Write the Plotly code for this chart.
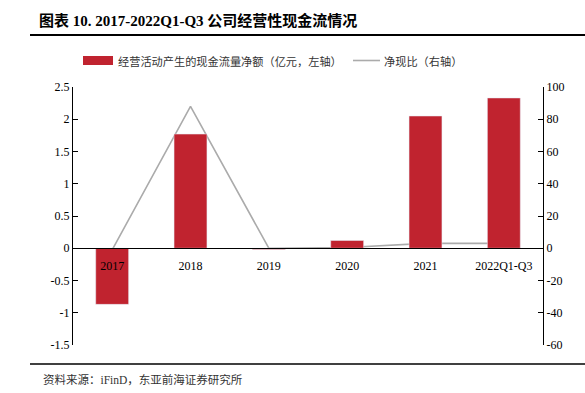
import plotly.graph_objects as go

categories = ["2017", "2018", "2019", "2020", "2021", "2022Q1-Q3"]
cash_flow = [-0.87, 1.77, -0.02, 0.12, 2.05, 2.33]
cash_ratio = [-1.0, 88.0, 0.0, 0.5, 3.0, 3.0]
left_ticks = [-1.5, -1, -0.5, 0, 0.5, 1, 1.5, 2, 2.5]
right_ticks = [-60, -40, -20, 0, 20, 40, 60, 80, 100]

title_text = "图表 10. 2017-2022Q1-Q3 公司经营性现金流情况"
bar_name = "经营活动产生的现金流量净额（亿元，左轴）"
line_name = "净现比（右轴）"
source_text = "资料来源：iFinD，东亚前海证券研究所"

W, H = 585, 393
ML, MR, MT, MB = 73, 42, 87, 48
PW, PH = W - ML - MR, H - MT - MB

def px(x):
    return (x - ML) / PW

def py(y):
    return (H - MB - y) / PH

RED = "#C0232F"
GRAY = "#ABABAB"
SERIF = "Liberation Serif, Times New Roman, serif"
CJK = "Noto Sans CJK SC"

def fmt(v):
    return f"{v:g}"

fig = go.Figure()
# line on primary (right) axis so bars on the overlaying axis draw on top
fig.add_trace(go.Scatter(x=categories, y=cash_ratio, name=line_name, mode="lines",
                         line=dict(color=GRAY, width=1.6), yaxis="y"))
fig.add_trace(go.Bar(x=categories, y=cash_flow, name=bar_name, marker_color=RED,
                     width=0.42, yaxis="y2"))

ymin, ymax = left_ticks[0], left_ticks[-1]
zero_pos = (0 - ymin) / (ymax - ymin)

tickfont = dict(family=SERIF, size=12, color="black")
fig.update_layout(
    width=W, height=H,
    margin=dict(l=ML, r=MR, t=MT, b=MB),
    paper_bgcolor="white", plot_bgcolor="white",
    showlegend=False,
    xaxis=dict(type="category", anchor="free", position=zero_pos,
               showline=True, linecolor="black", linewidth=1,
               ticks="", showgrid=False, zeroline=False,
               tickfont=tickfont, ticklabelstandoff=6),
    yaxis=dict(range=[right_ticks[0], right_ticks[-1]], tickvals=right_ticks,
               ticktext=[fmt(v) for v in right_ticks], side="right",
               showline=True, linecolor="black", linewidth=1,
               ticks="inside", ticklen=5, tickcolor="black",
               showgrid=False, zeroline=False, tickfont=tickfont),
    yaxis2=dict(range=[ymin, ymax], tickvals=left_ticks,
                ticktext=[fmt(v) for v in left_ticks],
                overlaying="y", side="left",
                showline=True, linecolor="black", linewidth=1,
                ticks="inside", ticklen=5, tickcolor="black",
                showgrid=False, zeroline=False, tickfont=tickfont),
    bargap=0.58,
)

shapes = [
    dict(type="line", xref="paper", yref="paper", x0=px(30), x1=px(585), y0=py(35), y1=py(35),
         line=dict(color="black", width=2)),
    dict(type="line", xref="paper", yref="paper", x0=px(30), x1=px(585), y0=py(364), y1=py(364),
         line=dict(color="black", width=1.6)),
    dict(type="rect", xref="paper", yref="paper", x0=px(83), x1=px(113), y0=py(65), y1=py(56),
         fillcolor=RED, line=dict(width=0)),
    dict(type="line", xref="paper", yref="paper", x0=px(353), x1=px(380), y0=py(60.5), y1=py(60.5),
         line=dict(color=GRAY, width=1.6)),
]
annotations = [
    dict(text=f"<b>{title_text}</b>", xref="paper", yref="paper", x=px(37), y=py(20),
         xanchor="left", yanchor="middle", showarrow=False,
         font=dict(family=f"{SERIF}, {CJK}", size=15, color="black")),
    dict(text=bar_name, xref="paper", yref="paper", x=px(116), y=py(60.5),
         xanchor="left", yanchor="middle", showarrow=False,
         font=dict(family=CJK, size=11.2, color="#333333")),
    dict(text=line_name, xref="paper", yref="paper", x=px(382), y=py(60.5),
         xanchor="left", yanchor="middle", showarrow=False,
         font=dict(family=CJK, size=11.2, color="#333333")),
    dict(text=source_text, xref="paper", yref="paper", x=px(41), y=py(379),
         xanchor="left", yanchor="middle", showarrow=False,
         font=dict(family=f"{SERIF}, {CJK}", size=11.5, color="#333333")),
]
fig.update_layout(shapes=shapes, annotations=annotations)

fig.write_html("out.html", config={"displayModeBar": False},
               post_script="document.body.style.margin='0';document.body.style.padding='0';")
